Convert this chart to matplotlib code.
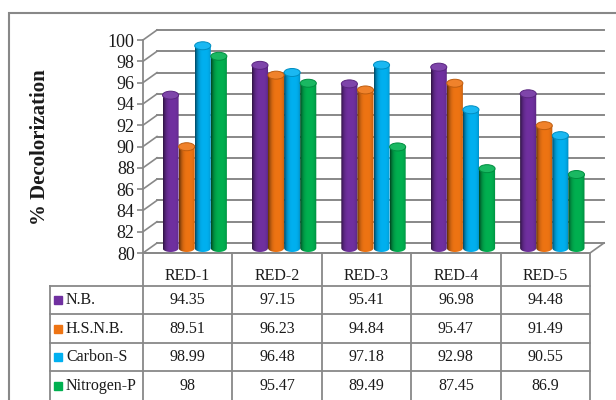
import numpy as np
import matplotlib
matplotlib.use("Agg")
import matplotlib.pyplot as plt
from matplotlib.patches import Ellipse, PathPatch, Rectangle
from matplotlib.path import Path
from matplotlib import colors as mcolors

# decolorization (%) per dye, one list per medium
categories = ["RED-1", "RED-2", "RED-3", "RED-4", "RED-5"]
series = ["N.B.", "H.S.N.B.", "Carbon-S", "Nitrogen-P"]
nb = [94.35, 97.15, 95.41, 96.98, 94.48]
hsnb = [89.51, 96.23, 94.84, 95.47, 91.49]
carbon_s = [98.99, 96.48, 97.18, 92.98, 90.55]
nitrogen_p = [98, 95.47, 89.49, 87.45, 86.9]
colours = ["#7030A0", "#EE7413", "#00B0F0", "#00B050"]
y_ticks = list(range(80, 101, 2))

plt.rcParams['font.family'] = 'Liberation Serif'

W, H = 616, 400
fig = plt.figure(figsize=(W / 100, H / 100), dpi=100)


def fbox(x0, y0, x1, y1):
    # pixel box (origin top-left) -> figure fraction rect
    return [x0 / W, 1 - y1 / H, (x1 - x0) / W, (y1 - y0) / H]


grid_c = "#888888"
txt_c = "#1a1a1a"

ax = fig.add_axes(fbox(143, 40, 590, 253))
ax.patch.set_visible(False)

# depth of the 3-D box, in data units
DX = 14 / 89.4
DY = 10 / 10.65


def shade(colour, k):
    rgb = np.array(mcolors.to_rgb(colour))
    if k >= 1:
        return tuple(rgb + (1 - rgb) * (k - 1))
    return tuple(rgb * k)


def draw_cylinder(ax, x0, w, y0, y1, colour, eh=0.75):
    rgb = np.array(mcolors.to_rgb(colour))
    t = np.linspace(0, 1, 64)
    prof = 1 - 0.4 * np.abs(2 * t - 1.15) ** 3
    grad = np.clip(rgb[None, None, :] * prof[None, :, None], 0, 1)
    th = np.linspace(np.pi, 2 * np.pi, 40)
    bottom = np.column_stack([x0 + w / 2 + w / 2 * np.cos(th),
                              y0 + eh / 2 * np.sin(th)])
    verts = np.vstack([[x0, y1], bottom, [x0 + w, y1], [x0, y1]])
    clip = PathPatch(Path(verts), transform=ax.transData,
                     facecolor="none", edgecolor="none")
    ax.add_patch(clip)
    im = ax.imshow(grad, extent=(x0, x0 + w, y0 - eh / 2, y1), aspect="auto",
                   zorder=3, interpolation="bilinear")
    im.set_clip_path(clip)
    ax.add_patch(Ellipse((x0 + w / 2, y1), w, eh, facecolor=shade(colour, 1.1),
                         edgecolor=shade(colour, 0.8), lw=0.7, zorder=4))


# back wall grid and left wall
for v in y_ticks:
    ax.plot([-0.5 + DX, 4.5 + DX], [v + DY, v + DY], color=grid_c, lw=1.4,
            clip_on=False, zorder=1)
    ax.plot([-0.5, -0.5 + DX], [v, v + DY], color=grid_c, lw=1.2,
            clip_on=False, zorder=1)
ax.plot([4.5, 4.5 + DX], [80, 80 + DY], color=grid_c, lw=1.2,
        clip_on=False, zorder=1)

# cylinders
values = [nb, hsnb, carbon_s, nitrogen_p]
bw = 0.18
for i, (vals, c) in enumerate(zip(values, colours)):
    for j, v in enumerate(vals):
        x0 = j - 2 * bw + i * bw + DX / 2
        draw_cylinder(ax, x0, bw, 80 + DY / 2, v + DY / 2, c)

ax.set_xlim(-0.5, 4.5)
ax.set_ylim(80, 100)
ax.set_yticks(y_ticks)
ax.set_xticks([])
ax.tick_params(axis="y", direction="out", length=4, color=grid_c, width=1.2,
               pad=2, labelsize=13, labelcolor=txt_c)
for s in ["top", "right"]:
    ax.spines[s].set_visible(False)
for s in ["left", "bottom"]:
    ax.spines[s].set_color(grid_c)
    ax.spines[s].set_linewidth(1.3)

fig.text(40 / W, 1 - 147 / H, "% Decolorization", rotation=90, ha="center",
         va="center", fontsize=15, fontweight="bold", color=txt_c)

# data table under the plot
tab = fig.add_axes(fbox(50, 253, 590, 400))
tab.axis("off")
label_w = (143 - 50) / 89.4
HEAD = 1.15
left = -0.5 - label_w
tab.set_xlim(left, 4.5)
tab.set_ylim(4.0, -HEAD)

lk = dict(color=grid_c, lw=1.3, clip_on=False)
tab.plot([-0.5, 4.5], [-HEAD, -HEAD], **lk)
for r in range(4):
    tab.plot([left, 4.5], [r, r], **lk)
tab.plot([left, left], [0, 4], **lk)
for k in range(6):
    tab.plot([k - 0.5, k - 0.5], [-HEAD, 4], **lk)

for j, cat in enumerate(categories):
    tab.text(j, -0.35, cat, ha="center", va="center", fontsize=11.5, color=txt_c)
for i, (name, vals, c) in enumerate(zip(series, values, colours)):
    tab.plot([-0.5 - (143 - 58.5) / 89.4], [i + 0.5], marker="s", ms=5.2,
             color=c, clip_on=False)
    tab.text(-0.5 - (143 - 66) / 89.4, i + 0.5, name, ha="left", va="center",
             fontsize=11.5, color=txt_c)
    for j, v in enumerate(vals):
        tab.text(j, i + 0.5, f"{v:g}", ha="center", va="center",
                 fontsize=11.5, color=txt_c)

# chart area border (runs off the right and bottom edges)
fig.add_artist(Rectangle((9 / W, -0.05), 1.2, 1 - 13 / H + 0.05,
                         transform=fig.transFigure, fill=False,
                         edgecolor=grid_c, lw=1.5))

fig.savefig("out.png", dpi=100)
